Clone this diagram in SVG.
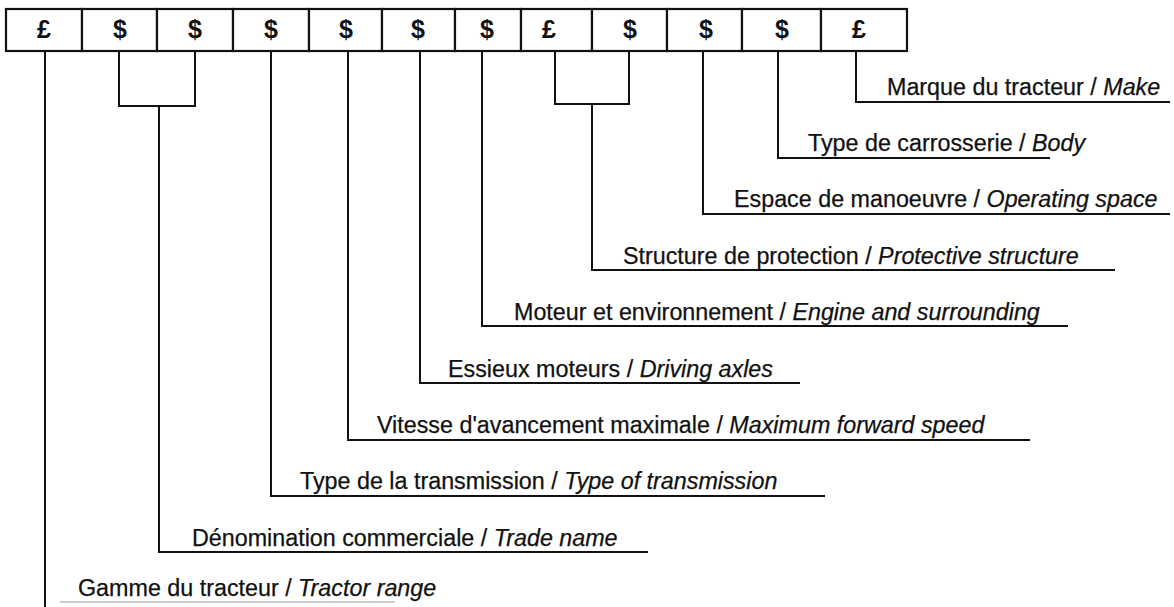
<svg xmlns="http://www.w3.org/2000/svg" width="1174" height="607" viewBox="0 0 1174 607">
<style>
.box{fill:#fff;stroke:#111;stroke-width:2.2}
.sym{font-family:"Liberation Sans",Arial,sans-serif;font-size:25px;font-weight:bold;fill:#111;text-anchor:middle}
.lbl{font-family:"Liberation Sans",Arial,sans-serif;font-size:23.3px;fill:#111;stroke:#111;stroke-width:0.25}
.it{font-style:italic}
.con{fill:none;stroke:#111;stroke-width:2}
.faint{fill:none;stroke:#bbb;stroke-width:1.5}
</style>
<rect width="1174" height="607" fill="#fff"/>
<g id="code-boxes">
<g id="box1"><rect class="box" x="6" y="9" width="76" height="42"/><text class="sym" x="44" y="38">£</text></g>
<g id="box2"><rect class="box" x="82" y="9" width="75" height="42"/><text class="sym" x="120" y="38">$</text></g>
<g id="box3"><rect class="box" x="157" y="9" width="76" height="42"/><text class="sym" x="195" y="38">$</text></g>
<g id="box4"><rect class="box" x="233" y="9" width="76" height="42"/><text class="sym" x="271" y="38">$</text></g>
<g id="box5"><rect class="box" x="309" y="9" width="73" height="42"/><text class="sym" x="346" y="38">$</text></g>
<g id="box6"><rect class="box" x="382" y="9" width="73" height="42"/><text class="sym" x="418" y="38">$</text></g>
<g id="box7"><rect class="box" x="455" y="9" width="66" height="42"/><text class="sym" x="487" y="38">$</text></g>
<g id="box8"><rect class="box" x="521" y="9" width="71" height="42"/><text class="sym" x="549" y="38">£</text></g>
<g id="box9"><rect class="box" x="592" y="9" width="75" height="42"/><text class="sym" x="630" y="38">$</text></g>
<g id="box10"><rect class="box" x="667" y="9" width="75" height="42"/><text class="sym" x="706" y="38">$</text></g>
<g id="box11"><rect class="box" x="742" y="9" width="79" height="42"/><text class="sym" x="782" y="38">$</text></g>
<g id="box12"><rect class="box" x="821" y="9" width="86" height="42"/><text class="sym" x="859" y="38">£</text></g>
</g>
<g id="connectors">
<path class="con" d="M856 51V102H1170"/>
<path class="con" d="M778 51V158H1050"/>
<path class="con" d="M703 51V214H1170"/>
<path class="con" d="M555 51V104H629V51M592 104V270H1115"/>
<path class="con" d="M482 51V326H1068"/>
<path class="con" d="M420 51V383H800"/>
<path class="con" d="M348 51V440H1030"/>
<path class="con" d="M271 51V496H825"/>
<path class="con" d="M119 51V106H195V51M159 106V552H648"/>
<path class="con" d="M45 51V607"/>
<path class="faint" d="M60 602H395"/>
</g>
<g id="label-make"><text class="lbl" x="887" y="95">Marque du tracteur / <tspan class="it">Make</tspan></text></g>
<g id="label-body"><text class="lbl" x="808" y="151">Type de carrosserie / <tspan class="it">Body</tspan></text></g>
<g id="label-operating"><text class="lbl" x="734" y="207">Espace de manoeuvre / <tspan class="it">Operating space</tspan></text></g>
<g id="label-protective"><text class="lbl" x="623" y="264">Structure de protection / <tspan class="it">Protective structure</tspan></text></g>
<g id="label-engine"><text class="lbl" x="514" y="320">Moteur et environnement / <tspan class="it">Engine and surrounding</tspan></text></g>
<g id="label-axles"><text class="lbl" x="448" y="377">Essieux moteurs / <tspan class="it">Driving axles</tspan></text></g>
<g id="label-speed"><text class="lbl" x="377" y="433">Vitesse d'avancement maximale / <tspan class="it">Maximum forward speed</tspan></text></g>
<g id="label-transmission"><text class="lbl" x="300" y="489">Type de la transmission / <tspan class="it">Type of transmission</tspan></text></g>
<g id="label-tradename"><text class="lbl" x="192" y="546">Dénomination commerciale / <tspan class="it">Trade name</tspan></text></g>
<g id="label-range"><text class="lbl" x="78" y="596">Gamme du tracteur / <tspan class="it">Tractor range</tspan></text></g>
</svg>
